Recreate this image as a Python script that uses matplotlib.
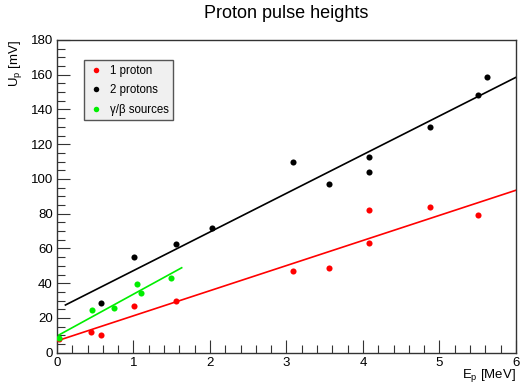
import numpy as np
import matplotlib
matplotlib.use("Agg")
import matplotlib.pyplot as plt
from matplotlib.ticker import MultipleLocator

plt.rcParams['font.family'] = ['Liberation Sans', 'DejaVu Sans']
plt.rcParams['mathtext.fontset'] = 'custom'
plt.rcParams['mathtext.rm'] = 'Liberation Sans'

# measured points (E_p in MeV, U_p in mV)
red_x = [0.03, 0.44, 0.58, 1.01, 1.55, 3.09, 3.55, 4.08, 4.08, 4.87, 5.51]
red_y = [8.0, 12.1, 10.4, 27.1, 30.0, 47.1, 48.5, 82.3, 63.3, 83.7, 79.3]

black_x = [0.58, 1.01, 1.55, 2.03, 3.09, 3.55, 4.08, 4.08, 4.87, 5.51, 5.62]
black_y = [28.7, 55.2, 62.3, 71.6, 109.5, 97.2, 112.7, 103.9, 129.8, 148.1, 158.7]

green_x = [0.03, 0.46, 0.75, 1.05, 1.10, 1.49]
green_y = [8.6, 24.5, 25.6, 39.6, 34.6, 42.9]

# linear fits: slope, intercept, x range
red_fit = (14.45, 6.8, 0.0, 6.0)
black_fit = (22.25, 25.0, 0.11, 6.0)
green_fit = (24.1, 9.6, 0.0, 1.63)

fig = plt.figure(figsize=(5.23, 3.88), dpi=100)
ax = fig.add_axes([0.109, 0.091, 0.8775, 0.806])

for fit, col in [(black_fit, 'black'), (red_fit, '#ff0000'), (green_fit, '#00ee00')]:
    k, b, x0, x1 = fit
    xs = np.array([x0, x1])
    ax.plot(xs, k * xs + b, color=col, lw=1.2, zorder=2)

ax.plot(red_x, red_y, 'o', color='#ff0000', ms=4.4, mew=0, label='1 proton', zorder=3)
ax.plot(black_x, black_y, 'o', color='black', ms=4.4, mew=0, label='2 protons', zorder=3)
ax.plot(green_x, green_y, 'o', color='#00ee00', ms=4.4, mew=0, label='γ/β sources', zorder=3)

ax.set_xlim(0, 6)
ax.set_ylim(0, 180)
ax.xaxis.set_major_locator(MultipleLocator(1))
ax.xaxis.set_minor_locator(MultipleLocator(0.2))
ax.yaxis.set_major_locator(MultipleLocator(20))
ax.yaxis.set_minor_locator(MultipleLocator(5))
ax.tick_params(which='both', direction='in', top=False, right=False,
               labelsize=9.5, color='#333333', pad=3)
ax.tick_params(which='major', length=9.5, width=0.8)
ax.tick_params(which='minor', length=5.5, width=0.8)
for s in ax.spines.values():
    s.set_color('#333333')
    s.set_linewidth(1.0)

fig.text(0.547, 0.965, 'Proton pulse heights', ha='center', va='center', fontsize=13)
ax.set_xlabel(r'E$_\mathrm{p}$ [MeV]', fontsize=9.5, loc='right')
ax.xaxis.set_label_coords(1.0, -0.045)
ax.set_ylabel(r'U$_\mathrm{p}$ [mV]', fontsize=9.5, loc='top')
ax.yaxis.set_label_coords(-0.072, 1.0)

leg = ax.legend(loc='upper left', bbox_to_anchor=(0.058, 0.935), fontsize=8.3,
                frameon=True, fancybox=False, borderpad=0.4, handletextpad=0.45,
                handlelength=1.4, labelspacing=0.65, borderaxespad=0, markerscale=0.9)
leg.get_frame().set_facecolor('#f0f0f0')
leg.get_frame().set_edgecolor('#555555')
leg.get_frame().set_alpha(1)
leg.get_frame().set_linewidth(1.0)

plt.savefig('out.png', dpi=100)
